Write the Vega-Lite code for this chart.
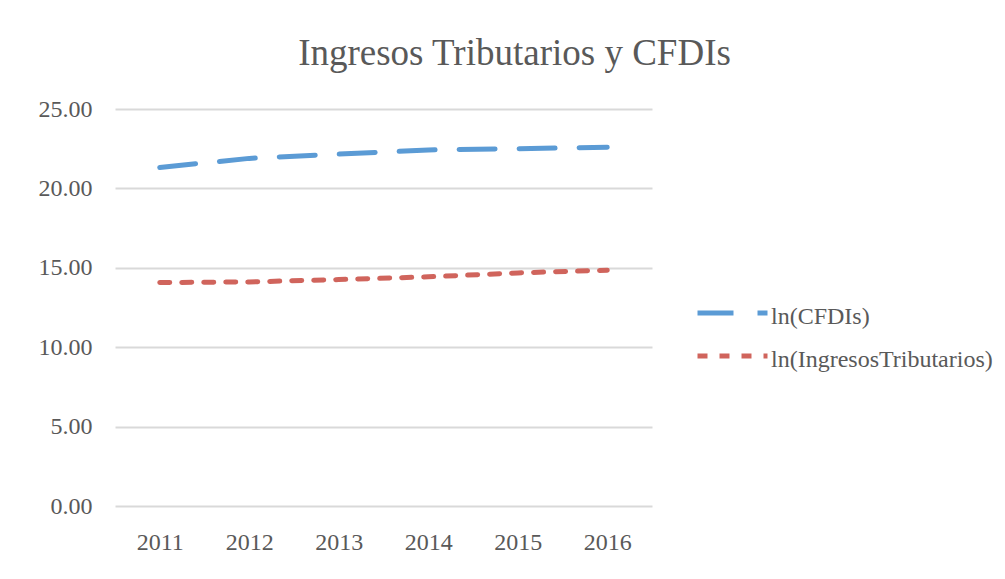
{
  "$schema": "https://vega.github.io/schema/vega-lite/v6.json",
  "width": 537,
  "height": 397,
  "autosize": {"type": "none"},
  "padding": {"left": 115, "top": 109, "right": 353, "bottom": 73},
  "background": "white",
  "title": {
    "text": "Ingresos Tributarios y CFDIs",
    "anchor": "middle",
    "frame": "group",
    "dx": 131,
    "fontSize": 37,
    "font": "Liberation Serif",
    "fontWeight": "normal",
    "color": "#595959",
    "baseline": "alphabetic",
    "offset": -5
  },
  "data": {
    "values": [
      {"year": "2011", "series": "ln(CFDIs)", "value": 21.32},
      {"year": "2012", "series": "ln(CFDIs)", "value": 21.89},
      {"year": "2013", "series": "ln(CFDIs)", "value": 22.16},
      {"year": "2014", "series": "ln(CFDIs)", "value": 22.42},
      {"year": "2015", "series": "ln(CFDIs)", "value": 22.50},
      {"year": "2016", "series": "ln(CFDIs)", "value": 22.59},
      {"year": "2011", "series": "ln(IngresosTributarios)", "value": 14.07},
      {"year": "2012", "series": "ln(IngresosTributarios)", "value": 14.11},
      {"year": "2013", "series": "ln(IngresosTributarios)", "value": 14.26},
      {"year": "2014", "series": "ln(IngresosTributarios)", "value": 14.43},
      {"year": "2015", "series": "ln(IngresosTributarios)", "value": 14.68},
      {"year": "2016", "series": "ln(IngresosTributarios)", "value": 14.85}
    ]
  },
  "mark": {"type": "line", "strokeWidth": 5, "strokeCap": "round"},
  "encoding": {
    "x": {
      "field": "year",
      "type": "ordinal",
      "title": null,
      "axis": {
        "labelAngle": 0,
        "labelFont": "Liberation Serif",
        "labelFontSize": 24,
        "labelColor": "#595959",
        "labelPadding": 24,
        "domain": false,
        "ticks": false,
        "grid": false
      }
    },
    "y": {
      "field": "value",
      "type": "quantitative",
      "title": null,
      "scale": {"domain": [0, 25], "nice": false},
      "axis": {
        "values": [0, 5, 10, 15, 20, 25],
        "format": ".2f",
        "labelFont": "Liberation Serif",
        "labelFontSize": 24,
        "labelColor": "#595959",
        "labelPadding": 23,
        "domain": false,
        "ticks": false,
        "grid": true,
        "gridColor": "#d9d9d9",
        "gridWidth": 2
      }
    },
    "color": {
      "field": "series",
      "type": "nominal",
      "scale": {
        "domain": ["ln(CFDIs)", "ln(IngresosTributarios)"],
        "range": ["#5B9BD5", "#D0645C"]
      },
      "legend": {
        "title": null,
        "orient": "none",
        "legendX": 580,
        "legendY": 189,
        "symbolType": "stroke",
        "symbolSize": 4900,
        "symbolStrokeWidth": 5,
        "labelFont": "Liberation Serif",
        "labelFontSize": 24,
        "labelColor": "#595959",
        "labelOffset": 1,
        "labelLimit": 400,
        "clipHeight": 30,
        "rowPadding": 12,
        "encode": {"labels": {"update": {"dy": {"value": 4}}}}
      }
    },
    "strokeDash": {
      "field": "series",
      "type": "nominal",
      "scale": {
        "domain": ["ln(CFDIs)", "ln(IngresosTributarios)"],
        "range": [[36, 24], [10, 12]]
      },
      "legend": {
        "title": null,
        "orient": "none",
        "legendX": 580,
        "legendY": 189,
        "symbolType": "stroke",
        "symbolSize": 4900,
        "symbolStrokeWidth": 5,
        "labelFont": "Liberation Serif",
        "labelFontSize": 24,
        "labelColor": "#595959",
        "labelOffset": 1,
        "labelLimit": 400,
        "clipHeight": 30,
        "rowPadding": 12,
        "encode": {"labels": {"update": {"dy": {"value": 4}}}}
      }
    }
  },
  "config": {"view": {"stroke": null}}
}
